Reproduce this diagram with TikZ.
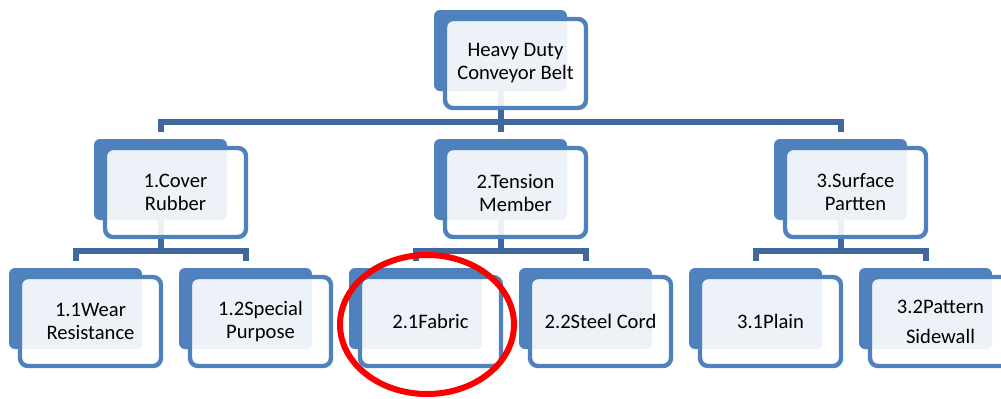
\documentclass[tikz,border=0pt]{standalone}
\usepackage{fontspec}
\setmainfont{Carlito}
\usetikzlibrary{positioning,shapes.geometric}
\definecolor{boxblue}{RGB}{79,129,189}
\definecolor{linkblue}{RGB}{64,104,158}
\definecolor{ringred}{RGB}{250,0,0}
\tikzset{
  backbox/.style={fill=boxblue, rounded corners=3pt, minimum width=66.5pt, minimum height=40.5pt, inner sep=0pt, outer sep=0pt, anchor=north west},
  frontbox/.style={draw=boxblue, line width=2.2pt, fill=white, fill opacity=0.9, text opacity=1, rounded corners=4pt, minimum width=70.5pt, minimum height=44.5pt, inner sep=0pt, outer sep=0pt, align=center, anchor=north west, font=\fontsize{10.3}{11.5}\selectfont},
  link/.style={draw=linkblue, line width=3pt, shorten >=3.5pt},
  ring/.style={draw=ringred, line width=3pt, ellipse, inner sep=0pt, minimum width=87pt, minimum height=69.5pt}
}
\begin{document}
\begin{tikzpicture}[x=0.5pt,y=-0.5pt]
\clip (0,0) rectangle (1001,398);
\node[backbox] (belt) at (434,10) {};
\node[backbox] (cover) at (94,139) {};
\node[backbox] (tension) at (434,139) {};
\node[backbox] (surface) at (774,139) {};
\node[backbox] (wear) at (9,268) {};
\node[backbox] (special) at (179,268) {};
\node[backbox] (fabric) at (349,268) {};
\node[backbox] (steel) at (519,268) {};
\node[backbox] (plain) at (689,268) {};
\node[backbox] (pattern) at (859,268) {};
\coordinate (bar1) at (500,122);
\coordinate (bar2) at (160,251);
\draw[link, shorten >=0pt] (belt.south) -- (belt.south |- bar1);
\draw[link, shorten <=3.5pt] (cover.north) |- (bar1 -| surface.north) -- (surface.north);
\draw[link] (tension.north |- bar1) -- (tension.north);
\draw[link, shorten >=0pt] (cover.south) -- (cover.south |- bar2);
\draw[link, shorten <=3.5pt] (wear.north) |- (bar2 -| special.north) -- (special.north);
\draw[link, shorten >=0pt] (tension.south) -- (tension.south |- bar2);
\draw[link, shorten <=3.5pt] (fabric.north) |- (bar2 -| steel.north) -- (steel.north);
\draw[link, shorten >=0pt] (surface.south) -- (surface.south |- bar2);
\draw[link, shorten <=3.5pt] (plain.north) |- (bar2 -| pattern.north) -- (pattern.north);
\node[frontbox] (beltF) at ([xshift=5.5pt,yshift=-4.5pt]belt.north west) {Heavy Duty\\Conveyor Belt};
\node[frontbox] (coverF) at ([xshift=5.5pt,yshift=-4.5pt]cover.north west) {1.Cover\\Rubber};
\node[frontbox] (tensionF) at ([xshift=5.5pt,yshift=-4.5pt]tension.north west) {2.Tension\\Member};
\node[frontbox] (surfaceF) at ([xshift=5.5pt,yshift=-4.5pt]surface.north west) {3.Surface\\Partten};
\node[frontbox] (wearF) at ([xshift=5.5pt,yshift=-4.5pt]wear.north west) {1.1Wear\\Resistance};
\node[frontbox] (specialF) at ([xshift=5.5pt,yshift=-4.5pt]special.north west) {1.2Special\\Purpose};
\node[frontbox] (fabricF) at ([xshift=5.5pt,yshift=-4.5pt]fabric.north west) {2.1Fabric};
\node[frontbox] (steelF) at ([xshift=5.5pt,yshift=-4.5pt]steel.north west) {2.2Steel Cord};
\node[frontbox] (plainF) at ([xshift=5.5pt,yshift=-4.5pt]plain.north west) {3.1Plain};
\node[frontbox] (patternF) at ([xshift=5.5pt,yshift=-4.5pt]pattern.north west) {3.2Pattern\\[3.5pt]Sidewall};
\node[ring] (fabricring) at (427,324.5) {};
\end{tikzpicture}
\end{document}
